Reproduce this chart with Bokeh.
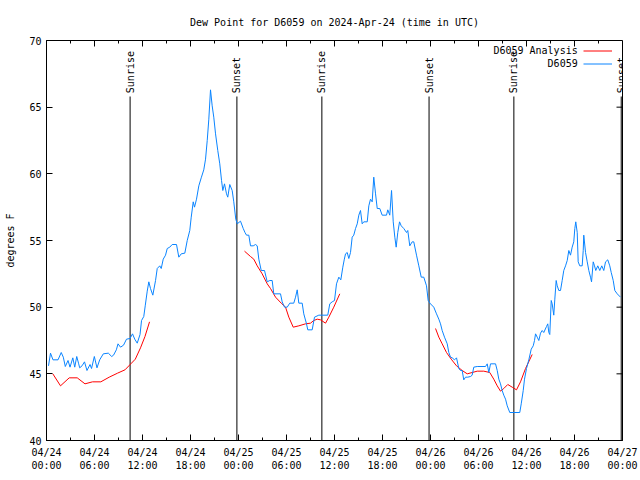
import math
from bokeh.plotting import figure
from bokeh.models import Range1d, FixedTicker, Label, Legend, LegendItem, Title
from bokeh.embed import file_html
from bokeh.resources import INLINE

NaN = float("nan")

# ---- data (hours since 2024-04-24 00:00 UTC, dew point in degrees F) ----
obs_hours = [0.25, 0.5, 0.81, 1.44, 1.84, 2.1, 2.35, 2.69, 2.94, 3.29, 3.53, 3.78, 4.0, 4.15,
             4.44, 4.75, 5.06, 5.44, 5.63, 5.98, 6.31, 6.65, 7.1, 7.73, 8.15, 8.38, 8.73, 8.94,
             9.25, 9.63, 10.0, 10.44, 10.75, 11.03, 11.34, 11.69, 11.88, 12.16, 12.34, 12.59,
             12.79, 13.0, 13.29, 13.63, 13.84, 14.16, 14.34, 14.59, 14.88, 15.09, 15.41, 15.71,
             16.25, 16.54, 16.84, 17.29, 17.59, 17.91, 18.09, 18.34, 18.5, 18.75, 19.04, 19.34,
             19.66, 19.88, 20.09, 20.29, 20.5, 20.71, 20.91, 21.13, 21.41, 21.66, 21.88, 22.04,
             22.25, 22.5, 22.66, 22.91, 23.21, 23.41, 23.66, 23.84, 24.25, 24.59, 24.81, 25.0,
             25.29, 25.5, 25.84, 26.13, 26.34, 26.54, 26.84, 27.25, 27.59, 27.91, 28.21, 28.41,
             29.25, 29.46, 29.75, 30.09, 30.41, 30.91, 31.13, 31.34, 31.54, 31.96, 32.16, 32.5,
             32.66, 33.21, 33.5, 34.04, 35.16, 35.41, 35.71, 36.0, 36.25, 36.54, 36.79, 37.04,
             37.23, 37.38, 37.59, 37.79, 38.0, 38.21, 38.41, 38.63, 38.84, 39.04, 39.25, 39.46,
             39.66, 40.09, 40.29, 40.5, 40.71, 40.91, 41.13, 41.34, 41.66, 41.96, 42.5, 42.66,
             42.91, 43.13, 43.34, 43.54, 43.71, 43.91, 44.13, 44.34, 44.66, 45.0, 45.16, 45.41,
             45.71, 45.91, 46.25, 46.54, 46.84, 47.16, 47.5, 47.71, 48.0, 48.41, 48.75, 49.04,
             49.25, 49.46, 49.75, 50.09, 50.29, 50.5, 50.71, 51.0, 51.25, 51.54, 51.75, 51.96,
             52.16, 52.38, 52.66, 53.0, 53.21, 53.41, 53.84, 54.88, 55.09, 55.29, 55.5, 56.13,
             56.34, 56.54, 56.75, 56.96, 57.16, 57.38, 57.59, 57.91, 59.16, 59.34, 59.59, 59.75,
             60.0, 60.29, 60.59, 60.84, 61.0, 61.13, 61.34, 61.54, 61.75, 61.96, 62.16, 62.5,
             62.66, 62.79, 62.91, 63.09, 63.21, 63.41, 63.54, 63.71, 63.84, 64.04, 64.25, 64.46,
             64.66, 64.88, 65.09, 65.29, 65.5, 65.71, 65.91, 66.04, 66.16, 66.34, 66.46, 66.66,
             66.96, 67.09, 67.16, 67.38, 67.59, 67.79, 68.0, 68.13, 68.34, 68.5, 68.66, 68.91,
             69.16, 69.41, 69.66, 69.88, 70.16, 70.41, 70.59, 70.84, 71.04, 71.34, 71.75]
obs_dewpt = [45.6, 46.55, 46.05, 46.05, 46.6, 46.25, 45.55, 46.0, 45.5, 46.2, 45.5, 46.3, 45.8, 45.45,
             45.6, 45.9, 45.25, 45.7, 45.4, 46.3, 45.45, 46.05, 46.5, 46.55, 46.3, 46.4, 46.8, 47.25,
             47.0, 47.15, 47.6, 47.65, 48.0, 47.6, 47.3, 47.95, 49.0, 49.3, 50.1, 51.2,
             51.9, 51.4, 50.9, 52.0, 52.9, 53.1, 52.9, 53.6, 53.9, 54.4, 54.5, 54.7,
             54.7, 53.75, 54.0, 54.05, 55.0, 55.75, 56.75, 57.9, 57.5, 58.1, 59.1, 59.7,
             60.3, 61.1, 62.5, 64.1, 66.3, 65.1, 64.25, 63.0, 61.75, 60.75, 59.5, 58.75,
             59.25, 58.5, 58.25, 59.2, 58.75, 57.9, 56.6, 56.25, 56.45, 55.9, 55.6, 55.4,
             55.4, 54.6, 54.6, 54.7, 54.6, 53.6, 52.75, 52.75, 51.9, 52.0, 52.0, 51.0,
             51.0, 50.4, 50.0, 50.0, 50.3, 50.3, 50.75, 51.3, 50.3, 50.3, 49.5, 48.75,
             48.3, 48.3, 49.25, 49.4, 49.4, 50.25, 50.4, 50.5, 51.75, 52.25, 52.05, 53.0,
             53.6, 54.0, 54.1, 53.65, 54.1, 55.25, 55.4, 55.9, 56.25, 56.9, 57.25, 56.25,
             56.4, 56.4, 57.6, 58.1, 57.9, 59.75, 58.5, 57.4, 57.4, 56.9, 56.9, 57.3,
             56.9, 58.75, 56.4, 55.25, 54.5, 55.6, 56.4, 56.1, 55.9, 55.6, 55.75, 54.6,
             54.9, 54.9, 53.9, 53.1, 52.25, 52.25, 51.6, 50.5, 50.25, 50.0, 49.5, 49.1,
             48.75, 48.25, 47.75, 47.25, 46.6, 46.25, 46.2, 46.05, 46.2, 45.4, 45.25, 45.25,
             44.55, 44.75, 44.75, 44.8, 44.9, 45.5, 45.55, 45.55, 45.75, 45.1, 45.75, 45.75,
             45.25, 44.6, 44.25, 43.75, 43.4, 43.1, 42.6, 42.1, 42.1, 42.75, 43.75, 44.6,
             45.4, 46.05, 46.85, 47.1, 47.5, 48.0, 47.75, 47.5, 48.05, 48.25, 48.1, 48.55,
             48.75, 48.1, 47.95, 50.5, 50.25, 49.4, 50.6, 52.0, 51.6, 51.25, 51.25, 52.0,
             52.75, 53.1, 53.5, 54.25, 53.9, 54.5, 54.9, 55.9, 56.4, 55.6, 53.4, 53.1,
             53.1, 54.25, 55.4, 54.1, 53.4, 52.75, 52.25, 51.9, 53.4, 53.1, 52.75, 53.1,
             52.75, 53.1, 52.75, 53.4, 53.55, 53.1, 52.6, 52.0, 51.25, 51.0, 50.75]

ana_hours = [0.79, 1.75, 2.84, 3.84, 4.81, 5.75, 6.79, 7.84, 8.88, 9.81, 10.54, 11.1, 11.75, 12.31, 12.88,
             NaN,
             24.75, 25.5, 25.91, 26.34, 26.96, 27.59, 28.0, 28.63, 29.34, 29.88, 30.29, 30.84,
             31.54, 32.38, 33.0, 33.41, 33.84, 34.25, 34.88, 35.29, 35.91, 36.66,
             NaN,
             48.63, 49.04, 49.46, 50.0, 50.59, 51.25, 51.96, 52.59, 53.21, 53.84, 54.66, 55.41,
             55.91, 56.34, 56.75, 57.16, 57.66, 58.21, 58.75, 59.25, 59.88, 60.71]
ana_dewpt = [45.0, 44.1, 44.7, 44.7, 44.25, 44.4, 44.4, 44.75, 45.05, 45.3, 45.75, 46.1, 46.95, 47.8, 48.9,
             NaN,
             54.2, 53.8, 53.6, 53.1, 52.5, 51.75, 51.4, 50.75, 50.3, 50.0, 49.25, 48.5,
             48.6, 48.75, 48.8, 49.0, 49.1, 49.05, 48.8, 49.25, 50.0, 51.0,
             NaN,
             48.4, 47.75, 47.25, 46.6, 46.1, 45.6, 45.25, 45.0, 45.1, 45.2, 45.2, 45.1,
             44.6, 44.1, 43.7, 43.9, 44.2, 44.0, 43.8, 44.4, 45.4, 46.45]

sun_hours = [10.45, 23.8, 34.42, 47.82, 58.42, 71.84]
sun_names = ["Sunrise", "Sunset", "Sunrise", "Sunset", "Sunrise", "Sunset"]

series_names = ["D6059 Analysis", "D6059"]
series_colors = ["#ff0000", "#0a84ff"]

x_ticks = [0, 6, 12, 18, 24, 30, 36, 42, 48, 54, 60, 66, 72]
x_tick_dates = ["04/24", "04/24", "04/24", "04/24", "04/25", "04/25", "04/25", "04/25",
                "04/26", "04/26", "04/26", "04/26", "04/27"]
x_tick_times = ["00:00", "06:00", "12:00", "18:00", "00:00", "06:00", "12:00", "18:00",
                "00:00", "06:00", "12:00", "18:00", "00:00"]
x_minor = [3, 9, 15, 21, 27, 33, 39, 45, 51, 57, 63, 69]
y_ticks = [40, 45, 50, 55, 60, 65, 70]

title_text = "Dew Point for D6059 on 2024-Apr-24 (time in UTC)"
y_label = "degrees F"

FONT = "DejaVu Sans Mono"
FS = "10px"
X0, X1, Y0, Y1 = 0, 72, 40, 70

p = figure(width=640, height=480, x_range=Range1d(X0, X1), y_range=Range1d(Y0, Y1),
           output_backend="svg", toolbar_location=None,
           min_border_left=46, min_border_right=18, min_border_top=40, min_border_bottom=40)
p.title.text = ""
p.add_layout(Title(text=title_text, align="center", text_font=FONT, text_font_size=FS,
                   text_font_style="normal", text_color="black", standoff=26), "above")
p.xgrid.visible = False
p.ygrid.visible = False
p.outline_line_color = "black"
p.outline_line_width = 1
p.background_fill_color = "white"
p.border_fill_color = "white"


def style_axis(ax):
    ax.axis_line_color = "black"
    ax.major_tick_line_color = "black"
    ax.minor_tick_line_color = "black"
    ax.major_tick_in = 6
    ax.major_tick_out = 0
    ax.minor_tick_in = 3
    ax.minor_tick_out = 0
    ax.major_label_text_font = FONT
    ax.major_label_text_font_size = FS
    ax.major_label_text_color = "black"
    ax.axis_label_text_font = FONT
    ax.axis_label_text_font_size = FS
    ax.axis_label_text_font_style = "normal"
    ax.axis_label_text_color = "black"


xaxis = p.xaxis[0]
xaxis.ticker = FixedTicker(ticks=x_ticks, minor_ticks=x_minor)
xaxis.major_label_overrides = {t: d + "\n" + tm for t, d, tm in zip(x_ticks, x_tick_dates, x_tick_times)}
style_axis(xaxis)
xaxis.major_label_standoff = 6

yaxis = p.yaxis[0]
yaxis.ticker = FixedTicker(ticks=y_ticks)
style_axis(yaxis)
yaxis.axis_label = y_label
yaxis.major_label_standoff = 5
yaxis.axis_label_standoff = 10

# mirrored tick marks on the top and right edges (inward), from the tick arrays
px_x = (X1 - X0) / 576.0   # data units per pixel horizontally
px_y = (Y1 - Y0) / 400.0   # data units per pixel vertically
p.segment(x0=x_ticks, y0=[Y1] * len(x_ticks), x1=x_ticks, y1=[Y1 - 6 * px_y] * len(x_ticks),
          line_color="black", line_width=1)
p.segment(x0=x_minor, y0=[Y1] * len(x_minor), x1=x_minor, y1=[Y1 - 3 * px_y] * len(x_minor),
          line_color="black", line_width=1)
p.segment(x0=[X1] * len(y_ticks), y0=y_ticks, x1=[X1 - 6 * px_x] * len(y_ticks), y1=y_ticks,
          line_color="black", line_width=1)

# sunrise / sunset markers
sun_top = 65.8
p.segment(x0=sun_hours, y0=[Y0] * len(sun_hours), x1=sun_hours,
          y1=[sun_top] * len(sun_hours), line_color="black", line_width=1)
for h, name in zip(sun_hours, sun_names):
    p.add_layout(Label(x=h, y=sun_top + 0.25, text=name, angle=math.pi / 2,
                       text_align="left", text_baseline="middle", text_font=FONT,
                       text_font_size=FS, text_color="black"))

# series
r_ana = p.line(ana_hours, ana_dewpt, line_color=series_colors[0], line_width=1)
r_obs = p.line(obs_hours, obs_dewpt, line_color=series_colors[1], line_width=1)

legend = Legend(items=[LegendItem(label=" ", renderers=[r_ana]),
                       LegendItem(label=" ", renderers=[r_obs])],
                location="top_right", glyph_width=29, glyph_height=13, label_height=13,
                label_width=0, label_standoff=6, spacing=0, padding=0, margin=4,
                background_fill_alpha=0, border_line_alpha=0, label_text_font_size="1px")
p.add_layout(legend)
leg_y = [69.25, 68.28]
for name, yy in zip(series_names, leg_y):
    p.add_layout(Label(x=66.4, y=yy, text=name, text_align="right", text_baseline="middle",
                       text_font=FONT, text_font_size=FS, text_color="black"))

open("out.html", "w").write(file_html(p, INLINE))
